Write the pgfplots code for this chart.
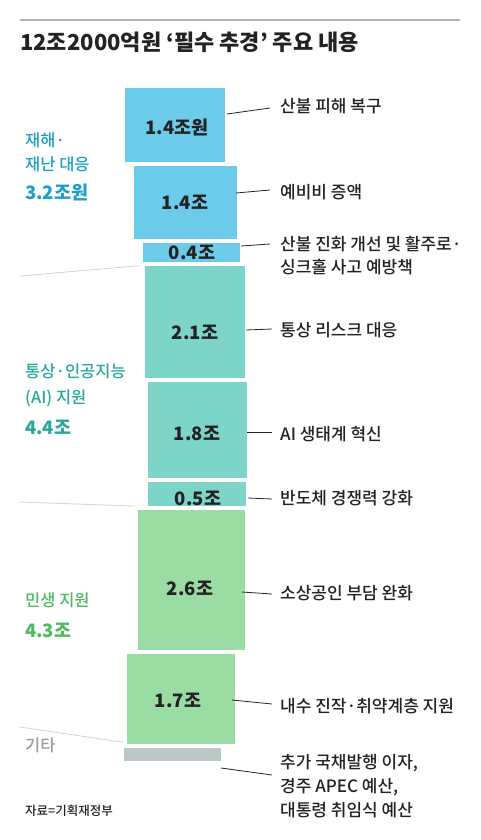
\documentclass[border=0pt]{standalone}
\usepackage{fontspec}
\setmainfont{Noto Sans CJK KR}
\newfontfamily\med{Noto Sans CJK KR Medium}
\usepackage{pgfplots}
\pgfplotsset{compat=1.18}
\definecolor{cblue}{HTML}{6DCBEA}
\definecolor{cteal}{HTML}{7DD5C9}
\definecolor{cgreen}{HTML}{9BDBA4}
\definecolor{cgray}{HTML}{B9C7C7}
\definecolor{tblue}{HTML}{1AA0C8}
\definecolor{tteal}{HTML}{27A99A}
\definecolor{tgreen}{HTML}{4DBB5F}
\definecolor{tgray}{HTML}{9A9A9A}
\definecolor{ink}{HTML}{222222}
\begin{document}
\begin{tikzpicture}
\begin{scope}[x=1pt,y=-1pt]
\useasboundingbox (0,0) rectangle (480,840);
\draw[gray!60, line width=1.5pt] (20,20) -- (460,20);
\draw[gray!35, line width=0.8pt] (20,276) -- (240,257);
\draw[gray!35, line width=0.8pt] (20,502) -- (245,510);
\draw[gray!35, line width=0.8pt] (20,727) -- (222,757);
\end{scope}
\begin{axis}[at={(0pt,0pt)}, anchor=north west, scale only axis,
  width=480pt, height=840pt, xmin=0, xmax=480, ymin=-1.5495, ymax=13.586,
  y dir=reverse, hide axis, clip=false, ybar stacked,
  every axis plot/.append style={draw=white, line width=4pt}]
\addplot[fill=cblue, bar width=104pt, bar shift=-15pt] coordinates {(190,1.4)};
\addplot[fill=cblue, bar width=107pt, bar shift=-5pt] coordinates {(190,1.4)};
\addplot[fill=cblue, bar width=101pt, bar shift=1pt] coordinates {(190,0.4)};
\addplot[fill=cteal, bar width=104pt, bar shift=5pt] coordinates {(190,2.1)};
\addplot[fill=cteal, bar width=103pt, bar shift=7pt] coordinates {(190,1.8)};
\addplot[fill=cteal, bar width=102pt, bar shift=7pt] coordinates {(190,0.5)};
\addplot[fill=cgreen, bar width=111pt, bar shift=1pt] coordinates {(190,2.6)};
\addplot[fill=cgreen, bar width=112pt, bar shift=-9pt] coordinates {(190,1.7)};
\addplot[fill=cgray, bar width=101pt, bar shift=-18pt] coordinates {(190,0.3)};
\end{axis}
\begin{scope}[x=1pt,y=-1pt, every node/.style={inner sep=0pt, anchor=west}]
\node[font=\bfseries\fontsize{22}{25}\selectfont, text=ink] at (20,42) {12조2000억원 ‘필수 추경’ 주요 내용};
% left category labels
\node[font=\med\fontsize{16.5}{19}\selectfont, text=tblue] at (25,140) {재해·};
\node[font=\med\fontsize{16.5}{19}\selectfont, text=tblue] at (25,164) {재난 대응};
\node[font=\bfseries\fontsize{18.5}{21}\selectfont, text=tblue] at (25,192) {3.2조원};
\node[font=\med\fontsize{16.5}{19}\selectfont, text=tteal] at (25,371) {통상·인공지능};
\node[font=\med\fontsize{16.5}{19}\selectfont, text=tteal] at (25,398) {(AI) 지원};
\node[font=\bfseries\fontsize{18.5}{21}\selectfont, text=tteal] at (25,427) {4.4조};
\node[font=\med\fontsize{16.5}{19}\selectfont, text=tgreen] at (25,600) {민생 지원};
\node[font=\bfseries\fontsize{18.5}{21}\selectfont, text=tgreen] at (25,630) {4.3조};
\node[font=\med\fontsize{16.5}{19}\selectfont, text=tgray] at (25,745) {기타};
\node[font=\med\fontsize{12.5}{15}\selectfont, text=ink] at (25,811) {자료=기획재정부};
% values inside bars
\begin{scope}[every node/.style={inner sep=0pt, anchor=center, font=\bfseries\fontsize{18.5}{21}\selectfont, text=ink}]
\node at (177,127) {1.4조원};
\node at (185,202) {1.4조};
\node at (192,252) {0.4조};
\node at (195,332) {2.1조};
\node at (197,433) {1.8조};
\node at (198,498) {0.5조};
\node at (190,588) {2.6조};
\node at (178,700) {1.7조};
\end{scope}
% leaders
\begin{scope}[draw=ink, line width=0.8pt]
\draw (227,114) -- (270,108);
\draw (236,193) -- (270,190);
\draw (241,246) -- (270,244);
\draw (246,330) -- (272,329);
\draw (247,432) -- (272,432);
\draw (248,498) -- (272,499);
\draw (242,592) -- (272,594);
\draw (232,700) -- (272,704);
\draw (221,768) -- (272,775);
\end{scope}
% right labels
\begin{scope}[every node/.style={inner sep=0pt, anchor=west, font=\med\fontsize{17}{19}\selectfont, text=ink}]
\node at (280,106) {산불 피해 복구};
\node at (280,192) {예비비 증액};
\node at (280,244) {산불 진화 개선 및 활주로·};
\node at (280,267) {싱크홀 사고 예방책};
\node at (280,330) {통상 리스크 대응};
\node at (280,434) {AI 생태계 혁신};
\node at (280,498) {반도체 경쟁력 강화};
\node at (280,593) {소상공인 부담 완화};
\node at (280,706) {내수 진작·취약계층 지원};
\node at (280,763) {추가 국채발행 이자,};
\node at (280,787) {경주 APEC 예산,};
\node at (280,810) {대통령 취임식 예산};
\end{scope}
\end{scope}
\end{tikzpicture}
\end{document}
